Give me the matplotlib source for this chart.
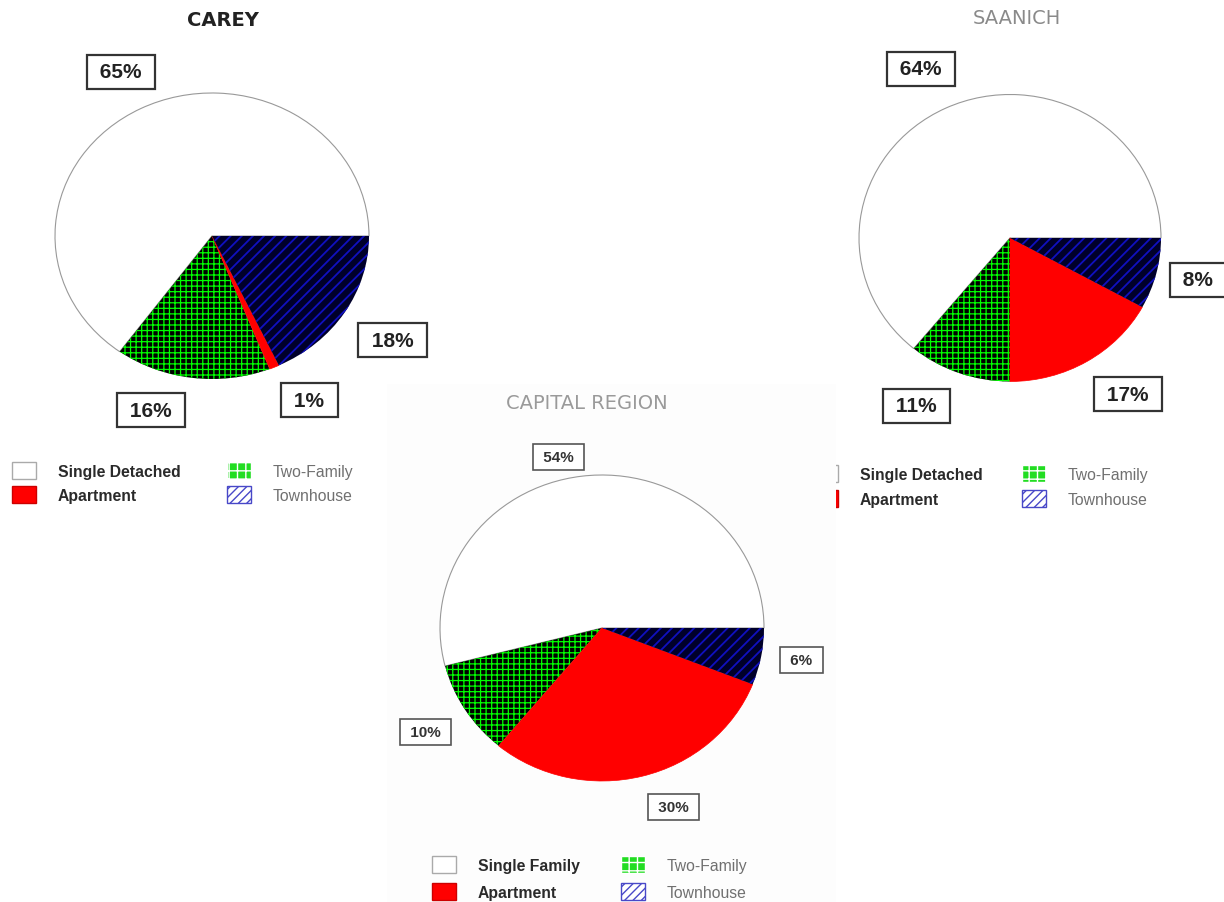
import matplotlib
matplotlib.use('Agg')
import matplotlib.pyplot as plt
from matplotlib.patches import Patch, Rectangle

# share of dwellings by type, in percent (counter-clockwise from 3 o'clock)
types = ['Single', 'Two-Family', 'Apartment', 'Townhouse']
carey = [65, 16, 1, 18]
saanich = [64, 11, 17, 8]
capital = [54, 10, 30, 6]

titles = ['CAREY', 'SAANICH', 'CAPITAL REGION']
single_names = ['Single Detached', 'Single Detached', 'Single Family']

W, H = 1224, 903
plt.rcParams['font.family'] = ['Liberation Sans', 'DejaVu Sans']
plt.rcParams['hatch.linewidth'] = 1.0


def fx(px):
    return px / W


def fy(py):
    return 1 - py / H


def set_hlw(p, lw):
    if hasattr(p, 'set_hatch_linewidth'):
        p.set_hatch_linewidth(lw)


def draw_pie(fig, values, cx, cy, rx, ry, label_pos, small=False, z=0):
    ax = fig.add_axes([fx(cx - rx), fy(cy + ry), 2 * rx / W, 2 * ry / H], zorder=z)
    wedges, _ = ax.pie(values, startangle=0, counterclock=True,
                       colors=['white', 'black', '#ff0000', '#00002a'])
    ax.set_aspect('auto')
    ax.set_xlim(-1, 1)
    ax.set_ylim(-1, 1)
    ax.patch.set_alpha(0)

    wedges[0].set_edgecolor('#999999')
    wedges[0].set_linewidth(0.8)
    wedges[1].set_hatch('+++')
    wedges[1].set_edgecolor('#00ff00')
    wedges[1].set_linewidth(0)
    set_hlw(wedges[1], 0.9)
    wedges[2].set_edgecolor('#ff0000')
    wedges[2].set_linewidth(0.5)
    wedges[3].set_hatch('///')
    wedges[3].set_edgecolor('#1010c0')
    wedges[3].set_linewidth(0)
    set_hlw(wedges[3], 1.3)

    for v, (lx, ly) in zip(values, label_pos):
        if small:
            ax.text(lx, ly, f' {v}% ', ha='center', va='center', fontsize=11,
                    fontweight='bold', color='#333333',
                    bbox=dict(boxstyle='square,pad=0.4', fc='white', ec='#555555', lw=1.2))
        else:
            ax.text(lx, ly, f' {v}% ', ha='center', va='center', fontsize=15,
                    fontweight='bold', color='#222222',
                    bbox=dict(boxstyle='square,pad=0.36', fc='white', ec='#333333', lw=1.6))
    return ax


def add_legend(ax, single_name, x, y, colsp, rowsp):
    fs = 11.3
    fpx = fs * 100 / 72
    handles = [
        Patch(facecolor='white', edgecolor='#aaaaaa', lw=1),
        Patch(facecolor='#ff0000', edgecolor='#cc0000', lw=1),
        Patch(facecolor='#22dd22', edgecolor='white', hatch='++', lw=1),
        Patch(facecolor='white', edgecolor='#4848c8', hatch='////', lw=1),
    ]
    labels = [single_name, 'Apartment', 'Two-Family', 'Townhouse']
    leg = ax.legend(handles, labels, ncol=2, loc='upper left',
                    bbox_to_anchor=(fx(x), fy(y)), bbox_transform=ax.figure.transFigure,
                    frameon=False, borderpad=0, borderaxespad=0,
                    handlelength=24 / fpx, handleheight=20 / fpx,
                    handletextpad=22 / fpx, columnspacing=colsp / fpx,
                    labelspacing=(rowsp - 17) / fpx,
                    prop={'size': fs, 'weight': 'bold'})
    texts = leg.get_texts()
    texts[0].set_color('#2a2a2a')
    texts[1].set_color('#2a2a2a')
    for t in texts[2:]:
        t.set_fontweight('normal')
        t.set_color('#707070')
    return leg


fig = plt.figure(figsize=(W / 100, H / 100), dpi=100)
fig.patch.set_facecolor('white')

ax1 = draw_pie(fig, carey, 212, 237, 157, 143,
               [(-0.58, 1.15), (-0.39, -1.22), (0.62, -1.15), (1.15, -0.73)])
add_legend(ax1, single_names[0], 12, 463, 46, 24)
fig.text(fx(223), fy(21), titles[0], ha='center', va='center', fontsize=14,
         fontweight='bold', color='#222222', family='DejaVu Sans')

ax2 = draw_pie(fig, saanich, 1010, 239, 151, 143.5,
               [(-0.59, 1.18), (-0.62, -1.17), (0.78, -1.09), (1.245, -0.29)])
add_legend(ax2, single_names[1], 814, 466, 39, 25)
fig.text(fx(1017), fy(18), titles[1], ha='center', va='center', fontsize=14,
         color='#8a8a8a', family='DejaVu Sans')

# the capital region panel sits on its own faint background
fig.add_artist(Rectangle((fx(387), 0), fx(836) - fx(387), fy(385),
                         transform=fig.transFigure, facecolor='#fdfdfd',
                         edgecolor='none', zorder=1))

ax3 = draw_pie(fig, capital, 602, 629, 162, 153,
               [(-0.27, 1.12), (-1.09, -0.68), (0.44, -1.17), (1.23, -0.21)],
               small=True, z=2)
add_legend(ax3, single_names[2], 432, 857, 41, 27)
fig.text(fx(587), fy(404), titles[2], ha='center', va='center', fontsize=14,
         color='#9a9a9a', family='DejaVu Sans', zorder=3)

fig.savefig('out.png', dpi=100)
